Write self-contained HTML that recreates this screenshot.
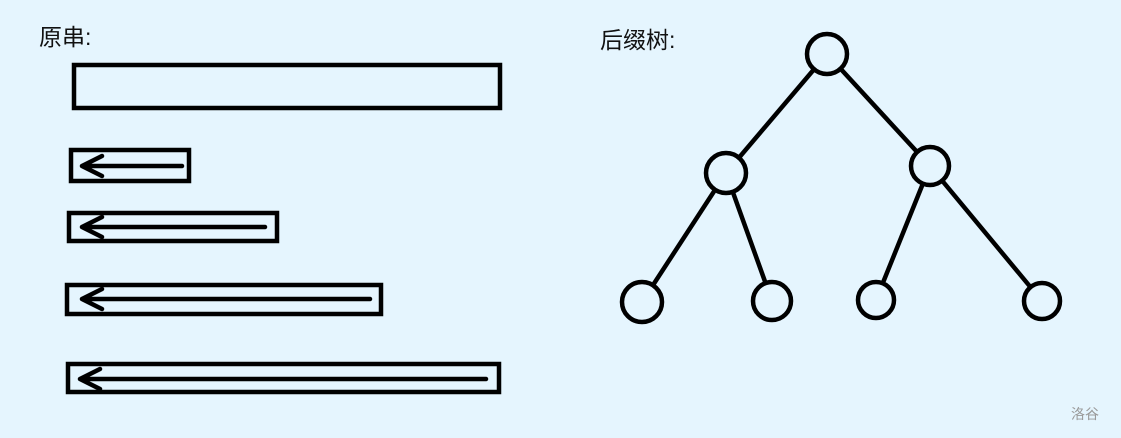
<!DOCTYPE html>
<html><head><meta charset="utf-8"><style>
html,body{margin:0;padding:0;background:#e5f5fe;}
svg{display:block}
</style></head><body>
<svg width="1121" height="438" viewBox="0 0 1121 438" xmlns="http://www.w3.org/2000/svg">
<rect width="1121" height="438" fill="#e5f5fe"/>
<text x="39" y="45" font-family="'Liberation Sans','Noto Sans CJK SC',sans-serif" font-size="23" fill="#111">原串:</text>
<text x="600" y="48" font-family="'Liberation Sans','Noto Sans CJK SC',sans-serif" font-size="23" fill="#111">后缀树:</text>
<text x="1071" y="419" font-family="'Liberation Sans','Noto Sans CJK SC',sans-serif" font-size="14" fill="#999">洛谷</text>
<g fill="none" stroke="#000" stroke-width="4.5">
<rect x="74" y="65" width="426" height="43"/>
<rect x="71" y="150" width="118" height="31"/>
<rect x="69" y="213" width="208" height="28"/>
<rect x="67" y="285" width="314" height="29"/>
<rect x="68" y="364" width="431" height="28"/>
</g>
<g fill="none" stroke="#000" stroke-width="4.5" stroke-linecap="round" stroke-linejoin="round">
<path d="M182 166H82M102 156L82 166L102 176"/>
<path d="M265 227H82M102 217L82 227L102 237"/>
<path d="M370 299H82M102 289L82 299L102 309"/>
<path d="M486 379H80M100 369L80 379L100 389"/>
</g>
<g stroke="#000" stroke-width="4.5">
<line x1="827" y1="54" x2="726" y2="173"/>
<line x1="827" y1="54" x2="930" y2="166"/>
<line x1="726" y1="173" x2="642" y2="302"/>
<line x1="726" y1="173" x2="772" y2="301"/>
<line x1="930" y1="166" x2="876" y2="300"/>
<line x1="930" y1="166" x2="1042" y2="301"/>
</g>
<g fill="#e5f5fe" stroke="#000" stroke-width="4.5">
<circle cx="827" cy="54" r="20"/>
<circle cx="726" cy="173" r="20"/>
<circle cx="930" cy="166" r="19"/>
<circle cx="642" cy="302" r="20"/>
<circle cx="772" cy="301" r="19"/>
<circle cx="876" cy="300" r="18"/>
<circle cx="1042" cy="301" r="18"/>
</g>
</svg>
</body></html>
